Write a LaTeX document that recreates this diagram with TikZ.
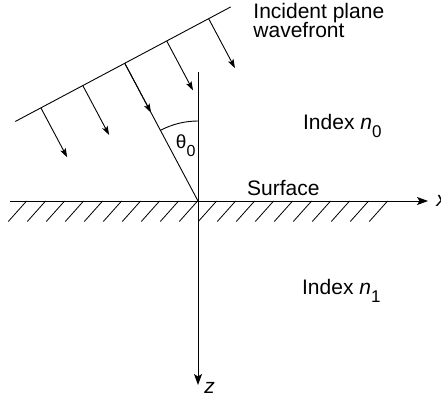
\documentclass[tikz,border=0pt]{standalone}
\usepackage{fontspec}
\setmainfont{Liberation Sans}
\usetikzlibrary{arrows.meta,calc}
\begin{document}
\begin{tikzpicture}[x=1pt,y=1pt,line width=0.9pt,
  lbl/.style={font=\fontsize{21}{21}\selectfont,inner sep=0pt,anchor=base west},
  ray/.style={-{Stealth[length=9pt,width=6pt,inset=2pt]}},
  axis/.style={-{Stealth[length=11pt,width=8pt,inset=2.5pt]}},
  hatch/.style={line width=0.8pt}]
\useasboundingbox (0,0) rectangle (441,400);
\coordinate (O) at (198,199);
% wavefront
\coordinate (W) at ($(O)+(118:156)$);
\coordinate (wa) at ($(W)+(208:124)$);
\coordinate (wb) at ($(W)+(28:120)$);
\draw (wa) -- (wb);
\foreach \t [count=\i] in {-95,-47.5,0,47.5,95} {
  \coordinate (s\i) at ($(W)+(28:\t)$);
  \coordinate (e\i) at ($(s\i)+(298:56)$);
  \draw[ray] (s\i) -- (e\i);
}
\draw (s3) -- (O);
% axes
\coordinate (xl) at (10,199);
\coordinate (xr) at (428,199);
\coordinate (zt) at (198,328);
\coordinate (zb) at (198,15);
\draw[axis] (xl) -- (xr);
\draw[axis] (zt) -- (zb);
% hatching
\foreach \k in {0,...,19} \draw[hatch] ({8.3+19*\k},178.5) -- ++(18.3,20.5);
% angle arc
\draw (O) ++(90:80) arc[start angle=90,end angle=118,radius=80];
% labels
\node[lbl] (inc1) at (253,381.7) {Incident plane};
\node[lbl] (inc2) at (253,362.5) {wavefront};
\node[lbl] (n0) at (302.7,271) {Index \textit{n}\raisebox{-8.5pt}{\fontsize{17}{17}\selectfont 0}};
\node[lbl] (n1) at (301.7,106) {Index \textit{n}\raisebox{-8.5pt}{\fontsize{17}{17}\selectfont 1}};
\node[lbl] (surf) at (246.7,205) {Surface};
\node[lbl] (th) at (175.5,251.7) {\fontsize{19}{19}\selectfont θ\raisebox{-8pt}{\fontsize{16}{16}\selectfont 0}};
\node[lbl] (xlab) at (436,194) {\textit{x}};
\node[lbl] (zlab) at (204,7) {\textit{z}};
\end{tikzpicture}
\end{document}
